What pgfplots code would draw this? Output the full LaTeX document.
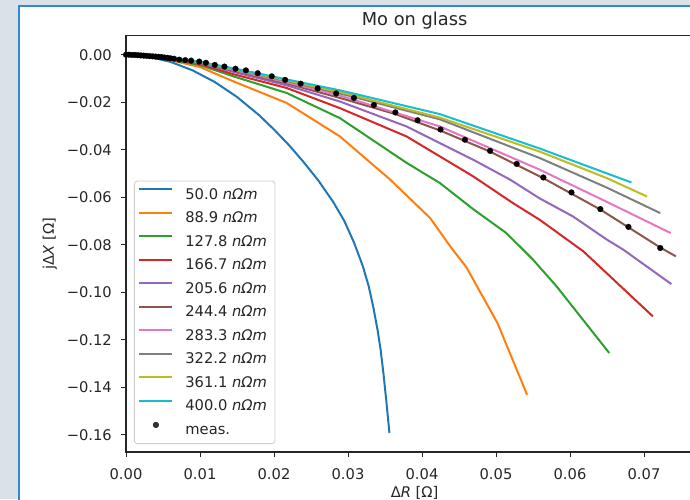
\documentclass[border=0pt]{standalone}
\usepackage{pgfplots}
\pgfplotsset{compat=1.18}
\usepackage{fontspec}
\setmainfont{DejaVu Sans}
\definecolor{c0}{HTML}{1F77B4}
\definecolor{c1}{HTML}{FF7F0E}
\definecolor{c2}{HTML}{2CA02C}
\definecolor{c3}{HTML}{D62728}
\definecolor{c4}{HTML}{9467BD}
\definecolor{c5}{HTML}{8C564B}
\definecolor{c6}{HTML}{E377C2}
\definecolor{c7}{HTML}{7F7F7F}
\definecolor{c8}{HTML}{BCBD22}
\definecolor{c9}{HTML}{17BECF}
\definecolor{bgc}{RGB}{218,225,233}
\definecolor{bdc}{RGB}{52,136,210}
\definecolor{txt}{RGB}{38,38,38}
\newcommand{\unit}{\textit{n}\textit{Ω}\textit{m}}
\pgfplotsset{
  linelegend/.style={legend image code/.code={\draw[##1] (0pt,5.2pt) -- (33pt,5.2pt); \path (45pt,5.2pt);}},
  dotlegend/.style={legend image code/.code={\draw[##1] plot coordinates {(16.5pt,5.2pt)}; \path (0pt,5.2pt) (45pt,5.2pt);}},
}
\begin{document}
\begin{tikzpicture}[x=1pt,y=1pt]
\useasboundingbox (0,0) rectangle (690,499);
\fill[bgc] (0,0) rectangle (690,499);
\fill[white] (19,0) rectangle (690,493);
\draw[bdc, line width=1.6pt] (19,-1) -- (19,493) -- (691,493);
\clip (19.8,0) rectangle (690,492.2);
\begin{axis}[
  at={(126pt,47pt)}, anchor=south west,
  scale only axis, width=577.2pt, height=416.3pt,
  xmin=0, xmax=0.078, ymin=-0.1673, ymax=0.008,
  axis line style={txt, line width=1.1pt},
  tick pos=left, tick align=outside,
  major tick length=5pt,
  tick style={txt, line width=1pt},
  xtick={0,0.01,0.02,0.03,0.04,0.05,0.06,0.07},
  xticklabels={0.00,0.01,0.02,0.03,0.04,0.05,0.06,0.07},
  ytick={-0.16,-0.14,-0.12,-0.10,-0.08,-0.06,-0.04,-0.02,0},
  yticklabels={−0.16,−0.14,−0.12,−0.10,−0.08,−0.06,−0.04,−0.02,0.00},
  xticklabel style={font=\fontsize{14.7}{17}\selectfont, text=txt, anchor=base, inner sep=0pt, yshift=-22pt},
  yticklabel style={font=\fontsize{14.7}{17}\selectfont, text=txt, anchor=base east, inner sep=0pt, xshift=-9pt, yshift=-5.4pt},
  title={Mo on glass},
  title style={at={(axis description cs:0.5,1)}, anchor=base, yshift=3.7pt, font=\fontsize{17.8}{20}\selectfont, text=txt, inner sep=0pt},
  xlabel={Δ\textit{R} [Ω]},
  xlabel style={at={(axis description cs:0.5,0)}, anchor=base, yshift=-45pt, font=\fontsize{14.7}{17}\selectfont, text=txt, inner sep=0pt},
  ylabel={jΔ\textit{X} [Ω]},
  ylabel style={at={(axis description cs:0,0.5)}, anchor=base, yshift=72pt, font=\fontsize{14.7}{17}\selectfont, text=txt, inner sep=0pt},
  legend cell align=left,
  legend style={at={(0.01386,0.0192)}, anchor=south west, draw=black!20, line width=0.8pt, rounded corners=3pt,
    fill=white, fill opacity=0.8, text opacity=1, inner xsep=4pt, inner ysep=6pt,
    font=\fontsize{14.7}{17}\selectfont, text=txt, row sep=8.5pt,
    nodes={inner sep=0pt, text height=12pt, text depth=3pt}},
  linelegend,
  every axis plot/.append style={line width=2pt, mark=none},
]
\addplot[c0] coordinates {(0,0) (0.003,-0.0008) (0.006,-0.0030) (0.009,-0.0066) (0.012,-0.0115) (0.015,-0.0178) (0.018,-0.0255) (0.020,-0.0315) (0.022,-0.0380) (0.024,-0.0452) (0.026,-0.0530) (0.028,-0.0620) (0.0295,-0.0700) (0.0308,-0.0790) (0.0320,-0.0890) (0.0328,-0.0975) (0.0334,-0.1060) (0.0340,-0.1160) (0.0344,-0.1240) (0.0348,-0.1345) (0.0352,-0.1465) (0.0356,-0.1593)};
\addlegendentry{50.0 \unit\hspace*{4pt}}
\addplot[c1] coordinates {(0,0) (0.005,-0.0016) (0.010,-0.0052) (0.0145,-0.0112) (0.0217,-0.0203) (0.0289,-0.0344) (0.0357,-0.0526) (0.0411,-0.0688) (0.0440,-0.0815) (0.0460,-0.0895) (0.0502,-0.1130) (0.0542,-0.1432)};
\addlegendentry{88.9 \unit\hspace*{4pt}}
\addplot[c2] coordinates {(0,0) (0.005,-0.0014) (0.010,-0.0044) (0.0145,-0.0091) (0.0217,-0.0161) (0.0289,-0.0267) (0.0379,-0.0455) (0.0424,-0.0540) (0.0469,-0.0650) (0.0514,-0.0751) (0.0550,-0.0863) (0.0582,-0.0976) (0.0653,-0.1256)};
\addlegendentry{127.8 \unit\hspace*{4pt}}
\addplot[c3] coordinates {(0,0) (0.005,-0.0013) (0.010,-0.0040) (0.0145,-0.0082) (0.0217,-0.0140) (0.0289,-0.0225) (0.0379,-0.0344) (0.0469,-0.0512) (0.0523,-0.0625) (0.0559,-0.0695) (0.0618,-0.0828) (0.0712,-0.1102)};
\addlegendentry{166.7 \unit\hspace*{4pt}}
\addplot[c4] coordinates {(0,0) (0.005,-0.0012) (0.010,-0.0036) (0.0145,-0.0072) (0.0217,-0.0129) (0.0289,-0.0197) (0.0379,-0.0302) (0.0469,-0.0442) (0.0519,-0.0526) (0.0559,-0.0605) (0.0604,-0.0681) (0.0650,-0.0779) (0.0672,-0.0821) (0.0737,-0.0966)};
\addlegendentry{205.6 \unit\hspace*{4pt}}
\addplot[c5] coordinates {(0,0) (0.005,-0.0012) (0.010,-0.0034) (0.0145,-0.0067) (0.0217,-0.0121) (0.0289,-0.0182) (0.0364,-0.0250) (0.0425,-0.0320) (0.0492,-0.0408) (0.0564,-0.0520) (0.0641,-0.0652) (0.0722,-0.0812) (0.0743,-0.0849)};
\addlegendentry{244.4 \unit\hspace*{4pt}}
\addplot[c6] coordinates {(0,0) (0.005,-0.0011) (0.010,-0.0033) (0.0145,-0.0064) (0.0217,-0.0116) (0.0289,-0.0172) (0.0424,-0.0302) (0.0559,-0.0484) (0.0650,-0.0620) (0.0736,-0.0751)};
\addlegendentry{283.3 \unit\hspace*{4pt}}
\addplot[c7] coordinates {(0,0) (0.005,-0.0011) (0.010,-0.0032) (0.0145,-0.0061) (0.0217,-0.0111) (0.0289,-0.0163) (0.0424,-0.0272) (0.0559,-0.0435) (0.0650,-0.0560) (0.0722,-0.0667)};
\addlegendentry{322.2 \unit\hspace*{4pt}}
\addplot[c8] coordinates {(0,0) (0.005,-0.0010) (0.010,-0.0031) (0.0145,-0.0059) (0.0217,-0.0108) (0.0289,-0.0157) (0.0424,-0.0265) (0.0559,-0.0408) (0.0650,-0.0520) (0.0704,-0.0597)};
\addlegendentry{361.1 \unit\hspace*{4pt}}
\addplot[c9] coordinates {(0,0) (0.005,-0.0010) (0.010,-0.0030) (0.0145,-0.0057) (0.0217,-0.0104) (0.0289,-0.0150) (0.0424,-0.0250) (0.0559,-0.0395) (0.0683,-0.0538)};
\addlegendentry{400.0 \unit\hspace*{4pt}}
\addplot[only marks, mark=*, mark size=2.9pt, black, mark options={draw=black, fill=black, line width=0.2pt}, dotlegend]
 coordinates {(0,0) (0.0004,0) (0.0008,-0.0001) (0.0012,-0.0001) (0.0016,-0.0002) (0.0020,-0.0003) (0.0024,-0.0004) (0.0028,-0.0005) (0.0032,-0.0006) (0.0036,-0.0007) (0.0040,-0.0008) (0.0044,-0.0009) (0.0048,-0.0010) (0.0052,-0.0012) (0.0056,-0.0013) (0.0060,-0.0015) (0.0065,-0.0017)
 (0.0072,-0.0021) (0.0080,-0.0023) (0.0088,-0.0025) (0.0099,-0.0029) (0.0108,-0.0034) (0.0120,-0.0043) (0.0133,-0.0050) (0.0148,-0.0059) (0.0162,-0.0066) (0.0178,-0.0078) (0.0197,-0.0091) (0.0215,-0.0106) (0.0236,-0.0122) (0.0259,-0.0142) (0.0284,-0.0163) (0.0308,-0.0182) (0.0335,-0.0212) (0.0364,-0.0243) (0.0394,-0.0276) (0.0425,-0.0315) (0.0458,-0.0358) (0.0492,-0.0405) (0.0528,-0.0460) (0.0564,-0.0517) (0.0602,-0.0580) (0.0641,-0.0650) (0.0679,-0.0725) (0.0722,-0.0814)};
\addlegendentry{meas.}
\end{axis}
\end{tikzpicture}
\end{document}
